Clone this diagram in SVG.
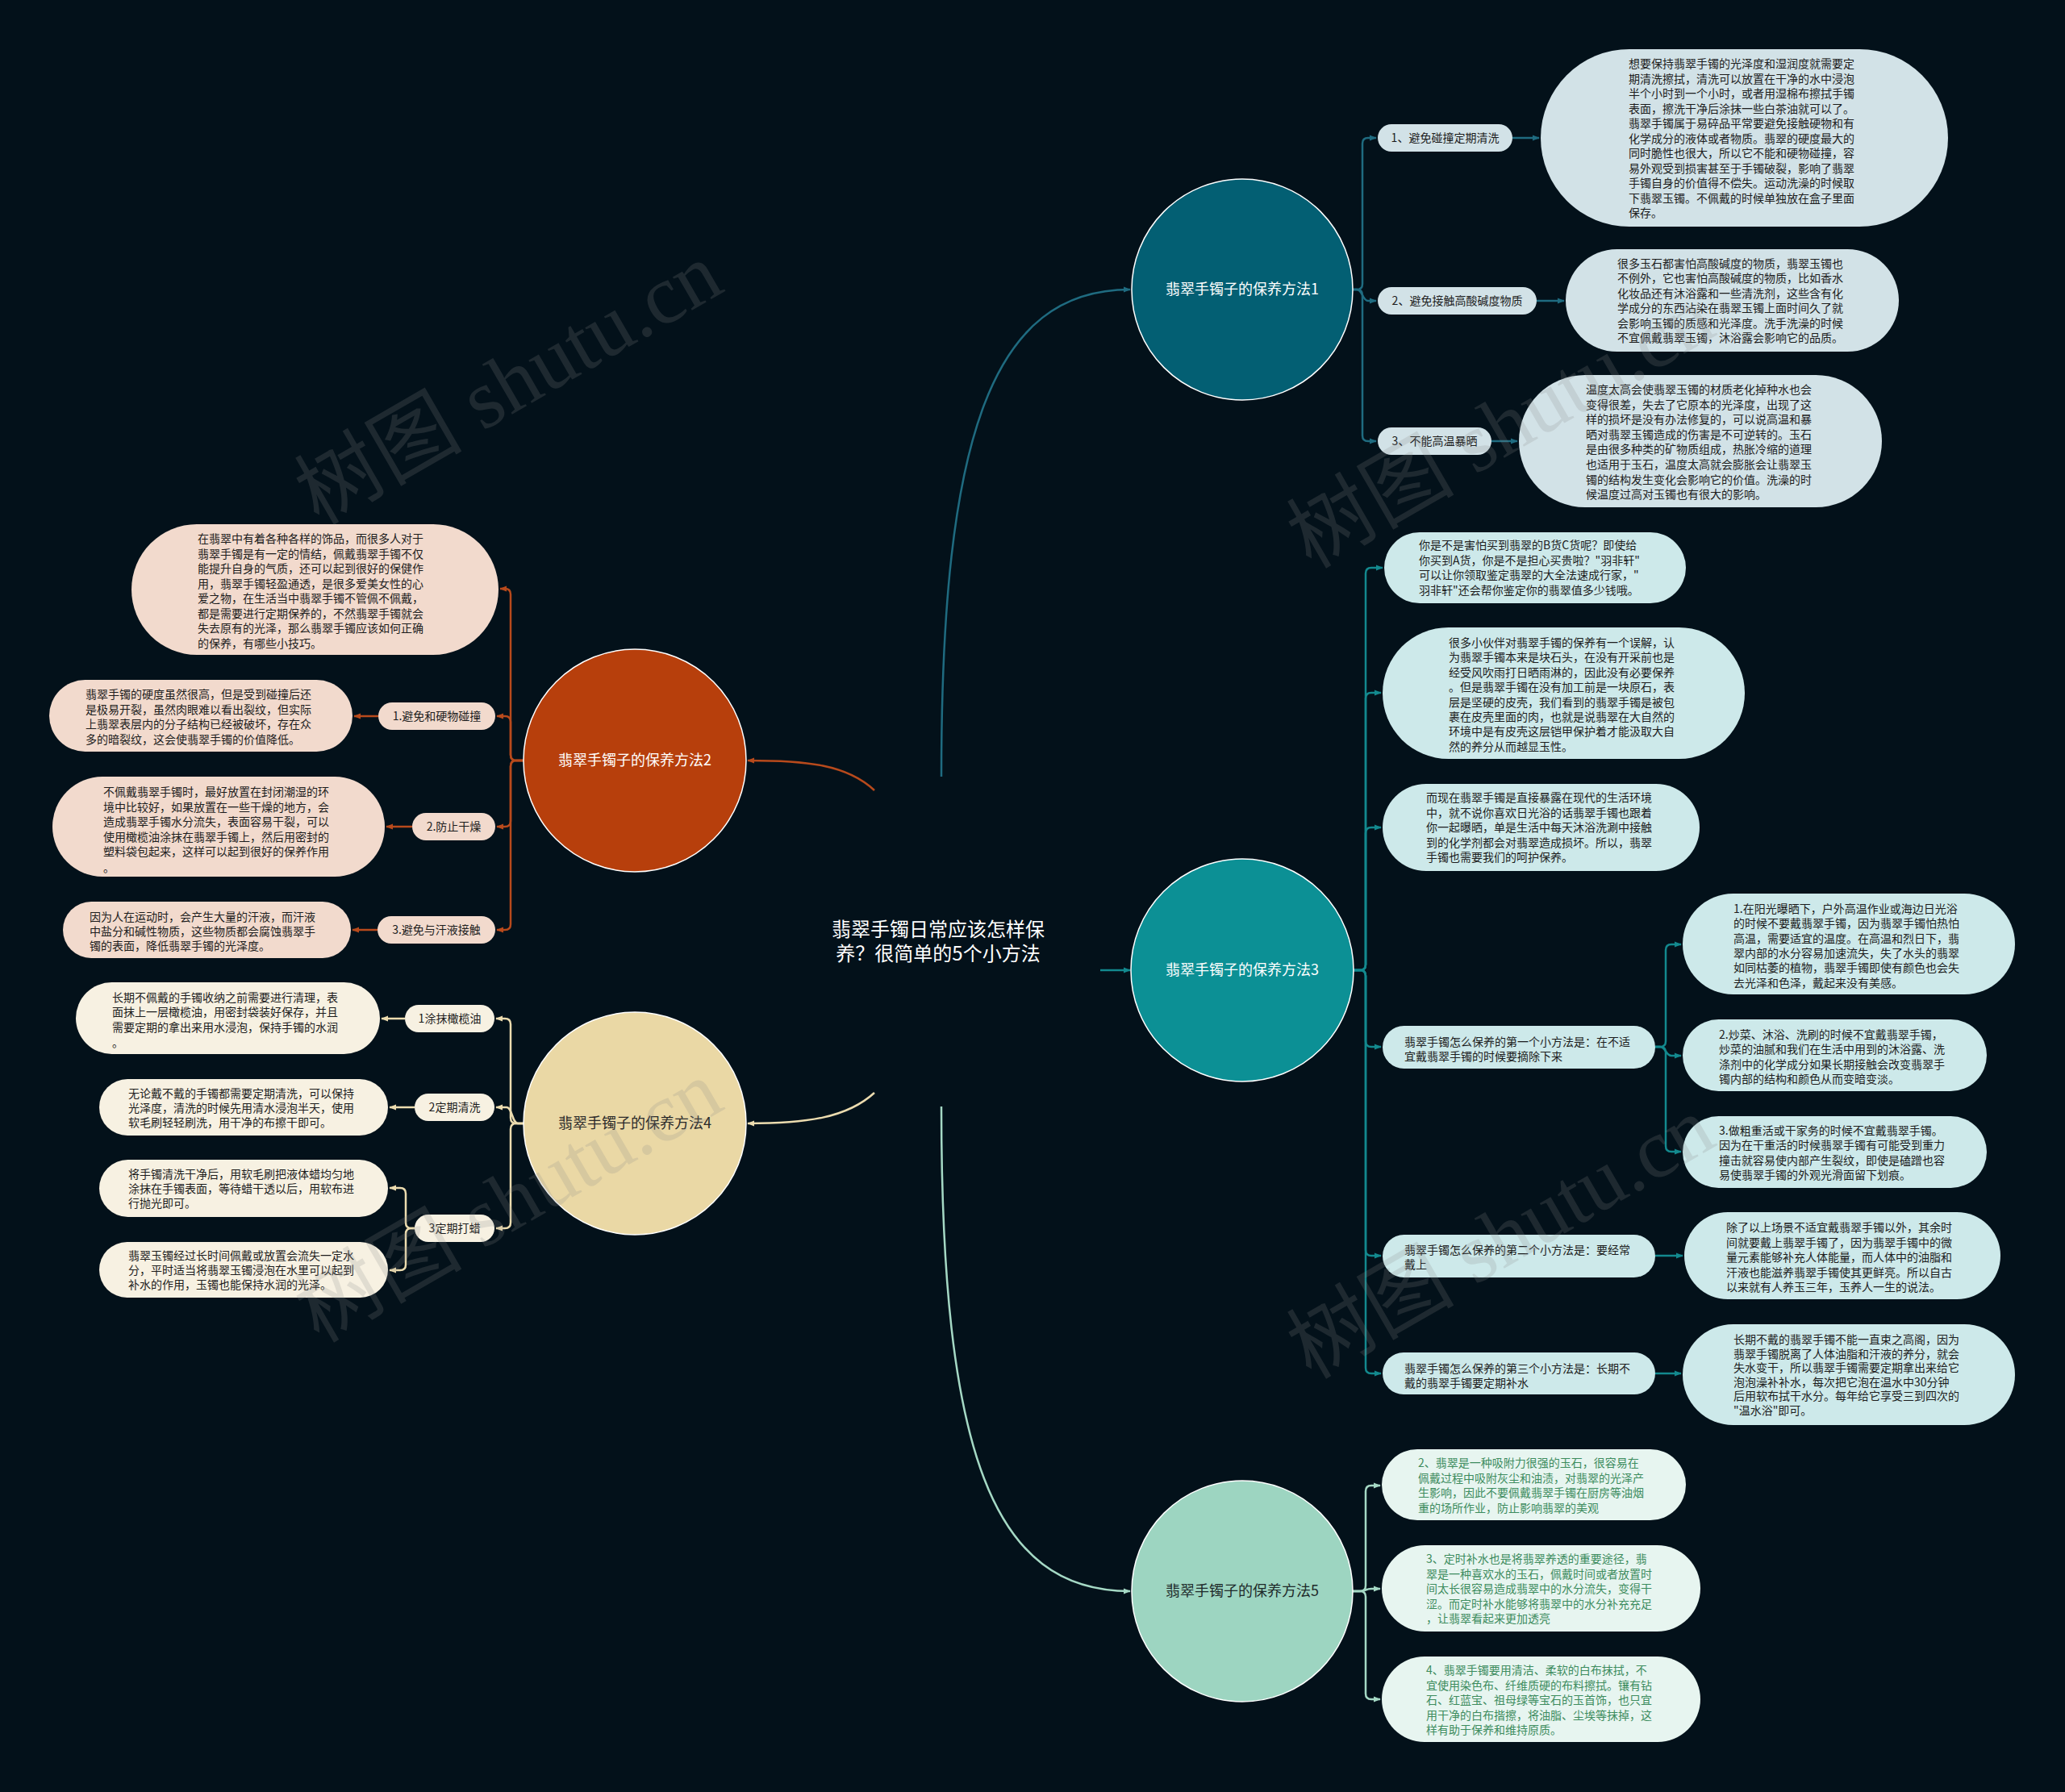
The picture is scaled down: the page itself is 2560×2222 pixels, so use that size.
<svg xmlns="http://www.w3.org/2000/svg" width="2560" height="2222" viewBox="0 0 2560 2222">
<style>
text{font-family:"Noto Sans CJK SC","Noto Sans",sans-serif;}
.t{font-size:14px;fill:#1c1c1c;}
.tg{font-size:14px;fill:#3d8c5e;}
.lab{font-size:14px;fill:#1c1c1c;text-anchor:middle;}
.ct{font-size:18px;text-anchor:middle;}
.title{font-size:24px;fill:#ffffff;text-anchor:middle;}
.c{stroke:#ffffff;stroke-width:1.5;}
.p1{fill:#d2e2e7;}
.p3{fill:#cde9ea;}
.p5{fill:#e7f5f0;}
.p2{fill:#f2dacd;}
.p4{fill:#f7f1e2;}
.ln{fill:none;stroke-width:2.5;}
.wm{font-family:"Liberation Serif","Noto Sans CJK SC",serif;font-size:104px;fill:#8a8a8a;opacity:0.2;text-anchor:middle;}
</style>
<defs>
<marker id="a1" viewBox="0 0 10 10" refX="9" refY="5" markerWidth="9" markerHeight="9" markerUnits="userSpaceOnUse" orient="auto"><path d="M0,1 L10,5 L0,9 z" fill="#1f6b80"/></marker>
<marker id="a2" viewBox="0 0 10 10" refX="9" refY="5" markerWidth="9" markerHeight="9" markerUnits="userSpaceOnUse" orient="auto"><path d="M0,1 L10,5 L0,9 z" fill="#b84a1c"/></marker>
<marker id="a3" viewBox="0 0 10 10" refX="9" refY="5" markerWidth="9" markerHeight="9" markerUnits="userSpaceOnUse" orient="auto"><path d="M0,1 L10,5 L0,9 z" fill="#13898e"/></marker>
<marker id="a4" viewBox="0 0 10 10" refX="9" refY="5" markerWidth="9" markerHeight="9" markerUnits="userSpaceOnUse" orient="auto"><path d="M0,1 L10,5 L0,9 z" fill="#ecdcaf"/></marker>
<marker id="a5" viewBox="0 0 10 10" refX="9" refY="5" markerWidth="9" markerHeight="9" markerUnits="userSpaceOnUse" orient="auto"><path d="M0,1 L10,5 L0,9 z" fill="#a5d9c5"/></marker>
</defs>
<rect width="2560" height="2222" fill="#03111a"/>

<g id="connectors">
<g stroke="#1f6b80" class="ln" marker-end="url(#a1)">
<path class="ln" d="M1167,963 C1167,540 1230,359 1401,359"/>
<path class="ln" d="M1677,359 H1682 Q1689,359 1689,352 V178 Q1689,171 1696,171 H1706"/>
<path class="ln" d="M1677,359 H1682 C1689,359 1689,373 1696,373 H1706"/>
<path class="ln" d="M1677,359 H1682 Q1689,359 1689,366 V540 Q1689,547 1696,547 H1706"/>
<path class="ln" d="M1875,171 H1908"/>
<path class="ln" d="M1905,373 H1939"/>
<path class="ln" d="M1849,547 H1881"/>
</g>
<g stroke="#13898e" class="ln" marker-end="url(#a3)">
<path class="ln" d="M1364,1203 H1401"/>
<path class="ln" d="M1678,1203 H1686 Q1693,1203 1693,1196 V711 Q1693,704 1700,704 H1714"/>
<path class="ln" d="M1678,1203 H1686 Q1693,1203 1693,1196 V866 Q1693,859 1700,859 H1712"/>
<path class="ln" d="M1678,1203 H1686 Q1693,1203 1693,1196 V1033 Q1693,1026 1700,1026 H1712"/>
<path class="ln" d="M1678,1203 H1686 Q1693,1203 1693,1210 V1291 Q1693,1298 1700,1298 H1712"/>
<path class="ln" d="M1678,1203 H1686 Q1693,1203 1693,1210 V1550 Q1693,1557 1700,1557 H1712"/>
<path class="ln" d="M1678,1203 H1686 Q1693,1203 1693,1210 V1696 Q1693,1703 1700,1703 H1712"/>
<path class="ln" d="M2052,1298 H2058 Q2065,1298 2065,1291 V1178 Q2065,1171 2072,1171 H2084"/>
<path class="ln" d="M2052,1298 H2058 C2065,1298 2065,1309 2072,1309 H2084"/>
<path class="ln" d="M2052,1298 H2058 Q2065,1298 2065,1305 V1421 Q2065,1428 2072,1428 H2084"/>
<path class="ln" d="M2052,1557 H2086"/>
<path class="ln" d="M2052,1703 H2084"/>
</g>
<g stroke="#a5d9c5" class="ln" marker-end="url(#a5)">
<path class="ln" d="M1167,1372 C1167,1800 1230,1973 1401,1973"/>
<path class="ln" d="M1677,1973 H1686 Q1693,1973 1693,1966 V1849 Q1693,1842 1700,1842 H1711"/>
<path class="ln" d="M1677,1973 H1686 C1693,1973 1693,1970 1700,1970 H1711"/>
<path class="ln" d="M1677,1973 H1686 Q1693,1973 1693,1980 V2100 Q1693,2107 1700,2107 H1711"/>
</g>
<g stroke="#b84a1c" class="ln" marker-end="url(#a2)">
<path class="ln" d="M1084,980 C1050,948 1000,943 927,943"/>
<path class="ln" d="M649,943 H640 Q633,943 633,936 V737 Q633,730 626,730 H620"/>
<path class="ln" d="M649,943 H640 Q633,943 633,936 V895 Q633,888 626,888 H616"/>
<path class="ln" d="M649,943 H640 Q633,943 633,950 V1018 Q633,1025 626,1025 H616"/>
<path class="ln" d="M649,943 H640 Q633,943 633,950 V1146 Q633,1153 626,1153 H616"/>
<path class="ln" d="M469,888 H439"/>
<path class="ln" d="M511,1025 H479"/>
<path class="ln" d="M468,1153 H437"/>
</g>
<g stroke="#ecdcaf" class="ln" marker-end="url(#a4)">
<path class="ln" d="M1084,1355 C1050,1386 1000,1393 927,1393"/>
<path class="ln" d="M649,1393 H640 Q633,1393 633,1386 V1270 Q633,1263 626,1263 H615"/>
<path class="ln" d="M649,1393 H642 C635,1393 635,1373 628,1373 H615"/>
<path class="ln" d="M649,1393 H640 Q633,1393 633,1400 V1516 Q633,1523 626,1523 H615"/>
<path class="ln" d="M502,1263 H473"/>
<path class="ln" d="M514,1373 H483"/>
<path class="ln" d="M514,1523 H510 Q503,1523 503,1516 V1480 Q503,1473 496,1473 H483"/>
<path class="ln" d="M514,1523 H510 Q503,1523 503,1530 V1568 Q503,1575 496,1575 H483"/>
</g>
</g>

<g id="root">
<text class="title"><tspan x="1163" y="1161">翡翠手镯日常应该怎样保</tspan><tspan x="1163" y="1191">养？很简单的5个小方法</tspan></text>
</g>

<g id="method1">
<circle class="c" cx="1540" cy="359" r="137" fill="#035f73"/>
<text class="ct" x="1540" y="365" fill="#ffffff">翡翠手镯子的保养方法1</text>
</g>
<g id="m1-label1"><rect class="p1" x="1708" y="154" width="167" height="34" rx="17"/><text class="lab" x="1791.5" y="176">1、避免碰撞定期清洗</text></g>
<g id="m1-label2"><rect class="p1" x="1708" y="356" width="197" height="34" rx="17"/><text class="lab" x="1806.5" y="378">2、避免接触高酸碱度物质</text></g>
<g id="m1-label3"><rect class="p1" x="1708" y="530" width="141" height="34" rx="17"/><text class="lab" x="1778.5" y="552">3、不能高温暴晒</text></g>
<g id="m1-leaf1"><rect class="p1" x="1910" y="61" width="505" height="220" rx="110"/>
<text class="t"><tspan x="2019" y="84">想要保持翡翠手镯的光泽度和湿润度就需要定</tspan><tspan x="2019" dy="18.5">期清洗擦拭，清洗可以放置在干净的水中浸泡</tspan><tspan x="2019" dy="18.5">半个小时到一个小时，或者用湿棉布擦拭手镯</tspan><tspan x="2019" dy="18.5">表面，擦洗干净后涂抹一些白茶油就可以了。</tspan><tspan x="2019" dy="18.5">翡翠手镯属于易碎品平常要避免接触硬物和有</tspan><tspan x="2019" dy="18.5">化学成分的液体或者物质。翡翠的硬度最大的</tspan><tspan x="2019" dy="18.5">同时脆性也很大，所以它不能和硬物碰撞，容</tspan><tspan x="2019" dy="18.5">易外观受到损害甚至于手镯破裂，影响了翡翠</tspan><tspan x="2019" dy="18.5">手镯自身的价值得不偿失。运动洗澡的时候取</tspan><tspan x="2019" dy="18.5">下翡翠玉镯。不佩戴的时候单独放在盒子里面</tspan><tspan x="2019" dy="18.5">保存。</tspan></text></g>
<g id="m1-leaf2"><rect class="p1" x="1941" y="309" width="413" height="127" rx="63.5"/>
<text class="t"><tspan x="2005" y="332">很多玉石都害怕高酸碱度的物质，翡翠玉镯也</tspan><tspan x="2005" dy="18.4">不例外，它也害怕高酸碱度的物质，比如香水</tspan><tspan x="2005" dy="18.4">化妆品还有沐浴露和一些清洗剂，这些含有化</tspan><tspan x="2005" dy="18.4">学成分的东西沾染在翡翠玉镯上面时间久了就</tspan><tspan x="2005" dy="18.4">会影响玉镯的质感和光泽度。洗手洗澡的时候</tspan><tspan x="2005" dy="18.4">不宜佩戴翡翠玉镯，沐浴露会影响它的品质。</tspan></text></g>
<g id="m1-leaf3"><rect class="p1" x="1883" y="465" width="450" height="164" rx="82"/>
<text class="t"><tspan x="1966" y="488">温度太高会使翡翠玉镯的材质老化掉种水也会</tspan><tspan x="1966" dy="18.6">变得很差，失去了它原本的光泽度，出现了这</tspan><tspan x="1966" dy="18.6">样的损坏是没有办法修复的，可以说高温和暴</tspan><tspan x="1966" dy="18.6">晒对翡翠玉镯造成的伤害是不可逆转的。玉石</tspan><tspan x="1966" dy="18.6">是由很多种类的矿物质组成，热胀冷缩的道理</tspan><tspan x="1966" dy="18.6">也适用于玉石，温度太高就会膨胀会让翡翠玉</tspan><tspan x="1966" dy="18.6">镯的结构发生变化会影响它的价值。洗澡的时</tspan><tspan x="1966" dy="18.6">候温度过高对玉镯也有很大的影响。</tspan></text></g>

<g id="method3">
<circle class="c" cx="1540" cy="1203" r="138" fill="#0c9095"/>
<text class="ct" x="1540" y="1209" fill="#ffffff">翡翠手镯子的保养方法3</text>
</g>
<g id="m3-leaf1"><rect class="p3" x="1716" y="660" width="374" height="88" rx="44"/>
<text class="t"><tspan x="1759" y="681">你是不是害怕买到翡翠的B货C货呢？即使给</tspan><tspan x="1759" dy="18.5">你买到A货，你是不是担心买贵啦？"羽非轩"</tspan><tspan x="1759" dy="18.5">可以让你领取鉴定翡翠的大全法速成行家，"</tspan><tspan x="1759" dy="18.5">羽非轩"还会帮你鉴定你的翡翠值多少钱哦。</tspan></text></g>
<g id="m3-leaf2"><rect class="p3" x="1714" y="778" width="449" height="163" rx="81.5"/>
<text class="t"><tspan x="1796" y="802">很多小伙伴对翡翠手镯的保养有一个误解，认</tspan><tspan x="1796" dy="18.4">为翡翠手镯本来是块石头，在没有开采前也是</tspan><tspan x="1796" dy="18.4">经受风吹雨打日晒雨淋的，因此没有必要保养</tspan><tspan x="1796" dy="18.4">。但是翡翠手镯在没有加工前是一块原石，表</tspan><tspan x="1796" dy="18.4">层是坚硬的皮壳，我们看到的翡翠手镯是被包</tspan><tspan x="1796" dy="18.4">裹在皮壳里面的肉，也就是说翡翠在大自然的</tspan><tspan x="1796" dy="18.4">环境中是有皮壳这层铠甲保护着才能汲取大自</tspan><tspan x="1796" dy="18.4">然的养分从而越显玉性。</tspan></text></g>
<g id="m3-leaf3"><rect class="p3" x="1714" y="972" width="393" height="108" rx="54"/>
<text class="t"><tspan x="1768" y="994">而现在翡翠手镯是直接暴露在现代的生活环境</tspan><tspan x="1768" dy="18.5">中，就不说你喜欢日光浴的话翡翠手镯也跟着</tspan><tspan x="1768" dy="18.5">你一起曝晒，单是生活中每天沐浴洗涮中接触</tspan><tspan x="1768" dy="18.5">到的化学剂都会对翡翠造成损坏。所以，翡翠</tspan><tspan x="1768" dy="18.5">手镯也需要我们的呵护保养。</tspan></text></g>
<g id="m3-label1"><rect class="p3" x="1714" y="1272" width="338" height="53" rx="26.5"/>
<text class="t"><tspan x="1741" y="1297">翡翠手镯怎么保养的第一个小方法是：在不适</tspan><tspan x="1741" dy="18">宜戴翡翠手镯的时候要摘除下来</tspan></text></g>
<g id="m3-sub1"><rect class="p3" x="2086" y="1108" width="412" height="125" rx="62.5"/>
<text class="t"><tspan x="2149" y="1132">1.在阳光曝晒下，户外高温作业或海边日光浴</tspan><tspan x="2149" dy="18.3">的时候不要戴翡翠手镯，因为翡翠手镯怕热怕</tspan><tspan x="2149" dy="18.3">高温，需要适宜的温度。在高温和烈日下，翡</tspan><tspan x="2149" dy="18.3">翠内部的水分容易加速流失，失了水头的翡翠</tspan><tspan x="2149" dy="18.3">如同枯萎的植物，翡翠手镯即使有颜色也会失</tspan><tspan x="2149" dy="18.3">去光泽和色泽，戴起来没有美感。</tspan></text></g>
<g id="m3-sub2"><rect class="p3" x="2086" y="1264" width="377" height="89" rx="44.5"/>
<text class="t"><tspan x="2131" y="1288">2.炒菜、沐浴、洗刷的时候不宜戴翡翠手镯，</tspan><tspan x="2131" dy="18.3">炒菜的油腻和我们在生活中用到的沐浴露、洗</tspan><tspan x="2131" dy="18.3">涤剂中的化学成分如果长期接触会改变翡翠手</tspan><tspan x="2131" dy="18.3">镯内部的结构和颜色从而变暗变淡。</tspan></text></g>
<g id="m3-sub3"><rect class="p3" x="2086" y="1384" width="377" height="89" rx="44.5"/>
<text class="t"><tspan x="2131" y="1407">3.做粗重活或干家务的时候不宜戴翡翠手镯。</tspan><tspan x="2131" dy="18.3">因为在干重活的时候翡翠手镯有可能受到重力</tspan><tspan x="2131" dy="18.3">撞击就容易使内部产生裂纹，即使是磕蹭也容</tspan><tspan x="2131" dy="18.3">易使翡翠手镯的外观光滑面留下划痕。</tspan></text></g>
<g id="m3-label2"><rect class="p3" x="1714" y="1531" width="338" height="53" rx="26.5"/>
<text class="t"><tspan x="1741" y="1555">翡翠手镯怎么保养的第二个小方法是：要经常</tspan><tspan x="1741" dy="18">戴上</tspan></text></g>
<g id="m3-leaf4"><rect class="p3" x="2088" y="1503" width="392" height="108" rx="54"/>
<text class="t"><tspan x="2140" y="1527">除了以上场景不适宜戴翡翠手镯以外，其余时</tspan><tspan x="2140" dy="18.5">间就要戴上翡翠手镯了，因为翡翠手镯中的微</tspan><tspan x="2140" dy="18.5">量元素能够补充人体能量，而人体中的油脂和</tspan><tspan x="2140" dy="18.5">汗液也能滋养翡翠手镯使其更鲜亮。所以自古</tspan><tspan x="2140" dy="18.5">以来就有人养玉三年，玉养人一生的说法。</tspan></text></g>
<g id="m3-label3"><rect class="p3" x="1714" y="1677" width="338" height="52" rx="26"/>
<text class="t"><tspan x="1741" y="1702">翡翠手镯怎么保养的第三个小方法是：长期不</tspan><tspan x="1741" dy="18">戴的翡翠手镯要定期补水</tspan></text></g>
<g id="m3-leaf5"><rect class="p3" x="2086" y="1642" width="412" height="125" rx="62.5"/>
<text class="t"><tspan x="2149" y="1666">长期不戴的翡翠手镯不能一直束之高阁，因为</tspan><tspan x="2149" dy="17.5">翡翠手镯脱离了人体油脂和汗液的养分，就会</tspan><tspan x="2149" dy="17.5">失水变干，所以翡翠手镯需要定期拿出来给它</tspan><tspan x="2149" dy="17.5">泡泡澡补补水，每次把它泡在温水中30分钟</tspan><tspan x="2149" dy="17.5">后用软布拭干水分。每年给它享受三到四次的</tspan><tspan x="2149" dy="17.5">"温水浴"即可。</tspan></text></g>

<g id="method5">
<circle class="c" cx="1540" cy="1973" r="137" fill="#9dd5c1"/>
<text class="ct" x="1540" y="1979" fill="#1e2a2a">翡翠手镯子的保养方法5</text>
</g>
<g id="m5-leaf1"><rect class="p5" x="1713" y="1797" width="377" height="88" rx="44"/>
<text class="tg"><tspan x="1758" y="1819">2、翡翠是一种吸附力很强的玉石，很容易在</tspan><tspan x="1758" dy="18.6">佩戴过程中吸附灰尘和油渍，对翡翠的光泽产</tspan><tspan x="1758" dy="18.6">生影响，因此不要佩戴翡翠手镯在厨房等油烟</tspan><tspan x="1758" dy="18.6">重的场所作业，防止影响翡翠的美观</tspan></text></g>
<g id="m5-leaf2"><rect class="p5" x="1713" y="1916" width="395" height="107" rx="53.5"/>
<text class="tg"><tspan x="1768" y="1938">3、定时补水也是将翡翠养透的重要途径，翡</tspan><tspan x="1768" dy="18.5">翠是一种喜欢水的玉石，佩戴时间或者放置时</tspan><tspan x="1768" dy="18.5">间太长很容易造成翡翠中的水分流失，变得干</tspan><tspan x="1768" dy="18.5">涩。而定时补水能够将翡翠中的水分补充充足</tspan><tspan x="1768" dy="18.5">，让翡翠看起来更加透亮</tspan></text></g>
<g id="m5-leaf3"><rect class="p5" x="1713" y="2054" width="395" height="106" rx="53"/>
<text class="tg"><tspan x="1768" y="2076">4、翡翠手镯要用清洁、柔软的白布抹拭，不</tspan><tspan x="1768" dy="18.5">宜使用染色布、纤维质硬的布料擦拭。镶有钻</tspan><tspan x="1768" dy="18.5">石、红蓝宝、祖母绿等宝石的玉首饰，也只宜</tspan><tspan x="1768" dy="18.5">用干净的白布揩擦，将油脂、尘埃等抹掉，这</tspan><tspan x="1768" dy="18.5">样有助于保养和维持原质。</tspan></text></g>

<g id="method2">
<circle class="c" cx="787" cy="943" r="138" fill="#b73f0c"/>
<text class="ct" x="787" y="949" fill="#ffffff">翡翠手镯子的保养方法2</text>
</g>
<g id="m2-intro"><rect class="p2" x="163" y="650" width="455" height="162" rx="81"/>
<text class="t"><tspan x="245" y="673">在翡翠中有着各种各样的饰品，而很多人对于</tspan><tspan x="245" dy="18.5">翡翠手镯是有一定的情结，佩戴翡翠手镯不仅</tspan><tspan x="245" dy="18.5">能提升自身的气质，还可以起到很好的保健作</tspan><tspan x="245" dy="18.5">用，翡翠手镯轻盈通透，是很多爱美女性的心</tspan><tspan x="245" dy="18.5">爱之物，在生活当中翡翠手镯不管佩不佩戴，</tspan><tspan x="245" dy="18.5">都是需要进行定期保养的，不然翡翠手镯就会</tspan><tspan x="245" dy="18.5">失去原有的光泽，那么翡翠手镯应该如何正确</tspan><tspan x="245" dy="18.5">的保养，有哪些小技巧。</tspan></text></g>
<g id="m2-label1"><rect class="p2" x="469" y="871" width="145" height="34" rx="17"/><text class="lab" x="541.5" y="893">1.避免和硬物碰撞</text></g>
<g id="m2-leaf1"><rect class="p2" x="61" y="843" width="376" height="89" rx="44.5"/>
<text class="t"><tspan x="106" y="866">翡翠手镯的硬度虽然很高，但是受到碰撞后还</tspan><tspan x="106" dy="18.6">是极易开裂，虽然肉眼难以看出裂纹，但实际</tspan><tspan x="106" dy="18.6">上翡翠表层内的分子结构已经被破坏，存在众</tspan><tspan x="106" dy="18.6">多的暗裂纹，这会使翡翠手镯的价值降低。</tspan></text></g>
<g id="m2-label2"><rect class="p2" x="511" y="1008" width="103" height="34" rx="17"/><text class="lab" x="562.5" y="1030">2.防止干燥</text></g>
<g id="m2-leaf2"><rect class="p2" x="65" y="963" width="412" height="124" rx="62"/>
<text class="t"><tspan x="128" y="987">不佩戴翡翠手镯时，最好放置在封闭潮湿的环</tspan><tspan x="128" dy="18.5">境中比较好，如果放置在一些干燥的地方，会</tspan><tspan x="128" dy="18.5">造成翡翠手镯水分流失，表面容易干裂，可以</tspan><tspan x="128" dy="18.5">使用橄榄油涂抹在翡翠手镯上，然后用密封的</tspan><tspan x="128" dy="18.5">塑料袋包起来，这样可以起到很好的保养作用</tspan><tspan x="128" dy="19.5">。</tspan></text></g>
<g id="m2-label3"><rect class="p2" x="468" y="1136" width="146" height="34" rx="17"/><text class="lab" x="541" y="1158">3.避免与汗液接触</text></g>
<g id="m2-leaf3"><rect class="p2" x="78" y="1118" width="357" height="70" rx="35"/>
<text class="t"><tspan x="111" y="1142">因为人在运动时，会产生大量的汗液，而汗液</tspan><tspan x="111" dy="18">中盐分和碱性物质，这些物质都会腐蚀翡翠手</tspan><tspan x="111" dy="18">镯的表面，降低翡翠手镯的光泽度。</tspan></text></g>

<g id="method4">
<circle class="c" cx="787" cy="1393" r="138" fill="#ead8a5"/>
<text class="ct" x="787" y="1399" fill="#2a2a2a">翡翠手镯子的保养方法4</text>
</g>
<g id="m4-label1"><rect class="p4" x="502" y="1246" width="111" height="34" rx="17"/><text class="lab" x="557.5" y="1268">1涂抹橄榄油</text></g>
<g id="m4-leaf1"><rect class="p4" x="94" y="1218" width="377" height="89" rx="44.5"/>
<text class="t"><tspan x="139" y="1242">长期不佩戴的手镯收纳之前需要进行清理，表</tspan><tspan x="139" dy="18.3">面抹上一层橄榄油，用密封袋装好保存，并且</tspan><tspan x="139" dy="18.3">需要定期的拿出来用水浸泡，保持手镯的水润</tspan><tspan x="139" dy="19.5">。</tspan></text></g>
<g id="m4-label2"><rect class="p4" x="514" y="1356" width="99" height="34" rx="17"/><text class="lab" x="563.5" y="1378">2定期清洗</text></g>
<g id="m4-leaf2"><rect class="p4" x="123" y="1338" width="358" height="70" rx="35"/>
<text class="t"><tspan x="159" y="1361">无论戴不戴的手镯都需要定期清洗，可以保持</tspan><tspan x="159" dy="18">光泽度，清洗的时候先用清水浸泡半天，使用</tspan><tspan x="159" dy="18">软毛刷轻轻刷洗，用干净的布擦干即可。</tspan></text></g>
<g id="m4-label3"><rect class="p4" x="514" y="1506" width="99" height="34" rx="17"/><text class="lab" x="563.5" y="1528">3定期打蜡</text></g>
<g id="m4-leaf3"><rect class="p4" x="123" y="1438" width="358" height="71" rx="35.5"/>
<text class="t"><tspan x="159" y="1461">将手镯清洗干净后，用软毛刷把液体蜡均匀地</tspan><tspan x="159" dy="18">涂抹在手镯表面，等待蜡干透以后，用软布进</tspan><tspan x="159" dy="18">行抛光即可。</tspan></text></g>
<g id="m4-leaf4"><rect class="p4" x="123" y="1540" width="358" height="69" rx="34.5"/>
<text class="t"><tspan x="159" y="1562">翡翠玉镯经过长时间佩戴或放置会流失一定水</tspan><tspan x="159" dy="18">分，平时适当将翡翠玉镯浸泡在水里可以起到</tspan><tspan x="159" dy="18">补水的作用，玉镯也能保持水润的光泽。</tspan></text></g>

<g id="watermarks">
<text class="wm" transform="translate(648,506) rotate(-30)">树图 shutu.cn</text>
<text class="wm" transform="translate(1878,560) rotate(-30)">树图 shutu.cn</text>
<text class="wm" transform="translate(648,1520) rotate(-30)">树图 shutu.cn</text>
<text class="wm" transform="translate(1878,1565) rotate(-30)">树图 shutu.cn</text>
</g>
</svg>
